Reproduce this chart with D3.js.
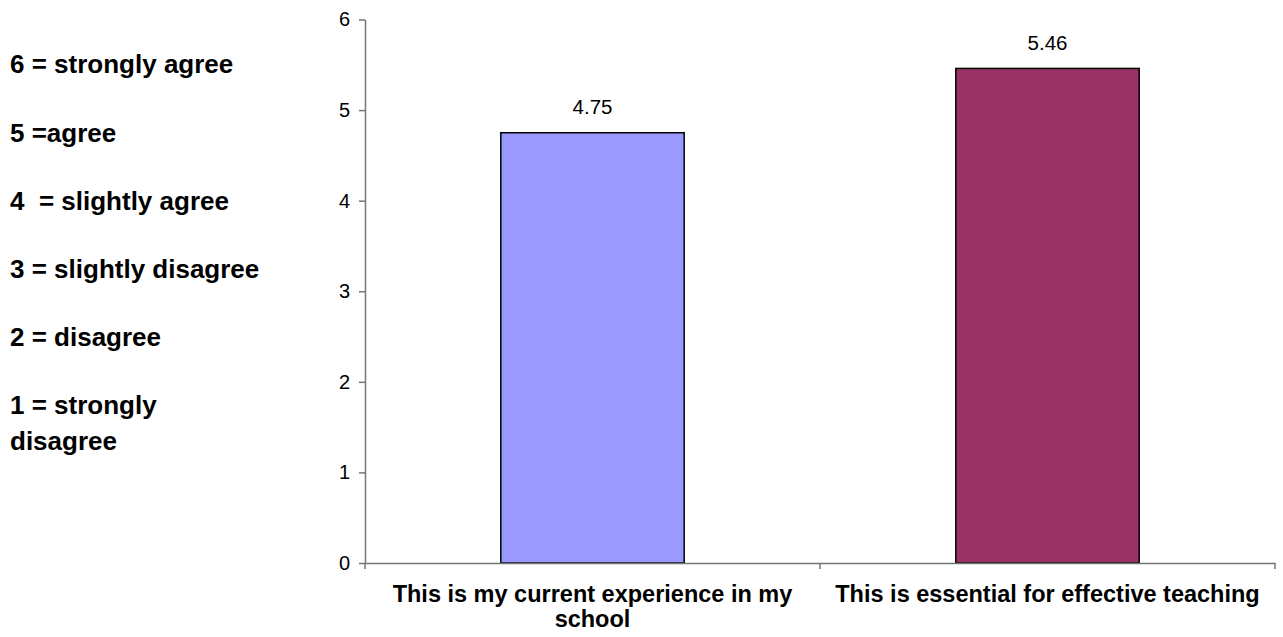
<!DOCTYPE html>
<html><head><meta charset="utf-8">
<script src="https://cdn.jsdelivr.net/npm/d3@7"></script>
<style>
body{margin:0;background:#fff}
text{font-family:"Liberation Sans",Arial,sans-serif;white-space:pre}
</style>
</head><body>
<svg id="c" width="1283" height="637"></svg>
<script>
// ---- data ----
const categories = ["This is my current experience in my school", "This is essential for effective teaching"];
const categoryLines = [["This is my current experience in my", "school"], ["This is essential for effective teaching"]];
const values = [4.75, 5.46];
const valueLabels = ["4.75", "5.46"];
const barColors = ["#9999FF", "#993366"];
const yTicks = [0, 1, 2, 3, 4, 5, 6];
const legendLines = [["6 = strongly agree"], ["5 =agree"], ["4  = slightly agree"], ["3 = slightly disagree"], ["2 = disagree"], ["1 = strongly", "disagree"]];

// ---- layout ----
const svg = d3.select("#c");
const plotLeft = 365, plotRight = 1275, plotTop = 19.5, plotBottom = 563;
const x = d3.scaleBand().domain(categories).range([plotLeft, plotRight]).padding(0);
const y = d3.scaleLinear().domain([0, 6]).range([plotBottom, plotTop]);
const axisColor = "#747474";
const barFrac = 0.403;

// bars
svg.append("g").selectAll("rect").data(values).join("rect")
  .attr("x", (d, i) => x(categories[i]) + x.bandwidth() * (1 - barFrac) / 2)
  .attr("width", x.bandwidth() * barFrac)
  .attr("y", d => y(d))
  .attr("height", d => y(0) - y(d))
  .attr("fill", (d, i) => barColors[i])
  .attr("stroke", "#000").attr("stroke-width", 1.5);

// y axis
const gy = svg.append("g").attr("transform", `translate(${plotLeft},0)`)
  .call(d3.axisLeft(y).tickValues(yTicks).tickFormat(d3.format("d")).tickSize(6).tickSizeOuter(0).tickPadding(9));
gy.attr("font-size", null).attr("font-family", null);
gy.select(".domain").attr("stroke", axisColor).attr("stroke-width", 1.5);
gy.selectAll(".tick line").attr("stroke", axisColor).attr("stroke-width", 1.5);
gy.selectAll(".tick text").style("font-size", "20px").attr("fill", "#000");

// x axis
const gx = svg.append("g").attr("transform", `translate(0,${plotBottom})`)
  .call(d3.axisBottom(x).tickSize(0).tickSizeOuter(0).tickFormat(""));
gx.select(".domain").attr("stroke", axisColor).attr("stroke-width", 1.5);
const bounds = categories.map(c => x(c)).concat([x.range()[1]]);
gx.selectAll("line.bound").data(bounds).join("line").attr("class", "bound")
  .attr("x1", d => d).attr("x2", d => d).attr("y1", 0).attr("y2", 6)
  .attr("stroke", axisColor).attr("stroke-width", 1.5);

// value labels
svg.append("g").selectAll("text").data(values).join("text")
  .attr("x", (d, i) => x(categories[i]) + x.bandwidth() / 2)
  .attr("y", d => y(d) - 18.5)
  .attr("text-anchor", "middle").style("font-size", "20.5px").attr("fill", "#000")
  .text((d, i) => valueLabels[i]);

// category labels
const cg = svg.append("g");
categoryLines.forEach((lines, i) => {
  const cx = x(categories[i]) + x.bandwidth() / 2;
  lines.forEach((ln, j) => {
    cg.append("text").attr("x", cx).attr("y", 602 + j * 25)
      .attr("text-anchor", "middle").style("font-size", "23.5px").attr("font-weight", "bold")
      .attr("fill", "#000").text(ln);
  });
});

// legend
const lg = svg.append("g");
const legendBase = [73, 142, 210, 278, 346, 414];
legendLines.forEach((lines, i) => {
  lines.forEach((ln, j) => {
    lg.append("text").attr("x", 10).attr("y", legendBase[i] + j * 36)
      .style("font-size", "26px").attr("font-weight", "bold").attr("fill", "#000").text(ln);
  });
});
</script>
</body></html>
